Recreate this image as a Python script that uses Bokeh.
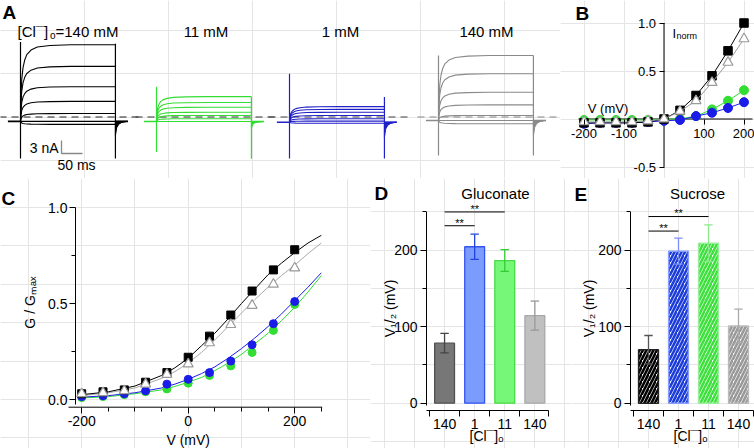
import math
from bokeh.plotting import figure
from bokeh.layouts import row, column
from bokeh.models import Range1d, FixedTicker, Label, ColumnDataSource, NumeralTickFormatter, LinearAxis
from bokeh.embed import file_html
from bokeh.resources import INLINE

FONT = "Liberation Sans"

# ---------------- Panel A : current traces ----------------
a_group_labels = ["=140 mM", "11 mM", "1 mM", "140 mM"]
a_colors = ["#000000", "#33dd33", "#2020c8", "#8a8a8a"]
a_dash_colors = ["#222222", "#333333", "#444444", "#888888"]
a_levels = [
    [16.7, 11.7, 7.0, 3.6, 0.8, -1.0, -1.7],      # 140 mM Cl
    [4.7, 3.35, 2.25, 1.1, 0.35, -0.4, -1.05],    # 11 mM
    [2.4, 1.75, 1.1, 0.35, -0.4, -0.95, -1.45],   # 1 mM
    [14.2, 10.0, 5.7, 2.8, 0.35, -0.8, -1.55],    # 140 mM again
]
a_holding = [-1.0, -1.05, -1.2, -0.8]
a_on_top = [17.3, 7.0, 10.0, 14.2]
a_on_bottom = [-9.6, -8.1, -9.6, -8.9]
a_off_top = [16.9, 4.7, 4.6, 14.2]
a_off_bottom = [-9.6, -9.65, -9.6, -8.9]
a_tail_depth = [[-4.3, -3.0], [-2.6, -1.8], [-4.7, -3.0], [-4.3, -2.8]]
a_rise_t = [0, 1, 3, 6, 10, 15, 25, 40, 70, 120, 226]
a_rise_f = [0, 0.3, 0.55, 0.7, 0.8, 0.87, 0.93, 0.97, 0.99, 1.0, 1.0]
a_tail_t = [0, 3, 8, 15, 28]
a_tail_f = [1.0, 0.45, 0.2, 0.08, 0.0]
a_pulse_ms = 226
a_scale_nA = 3
a_scale_ms = 50

# ---------------- Panel B : I-V ----------------
b_v = [-200, -160, -120, -80, -40, 0, 40, 80, 120, 160, 200]
b_black = [-0.04, -0.04, -0.04, -0.04, -0.03, 0.0, 0.09, 0.245, 0.45, 0.71, 1.0]
b_gray = [-0.03, -0.03, -0.03, -0.03, -0.02, 0.0, 0.08, 0.19, 0.38, 0.59, 0.835]
b_green = [-0.01, -0.01, -0.01, -0.01, -0.01, 0.0, 0.0, 0.03, 0.10, 0.19, 0.30]
b_blue = [-0.05, -0.04, -0.04, -0.04, -0.03, -0.02, -0.01, 0.03, 0.065, 0.115, 0.175]

# ---------------- Panel C : G/Gmax ----------------
c_v = [-200, -160, -120, -80, -40, 0, 40, 80, 120, 160, 200]
c_black = [0.03, 0.04, 0.05, 0.09, 0.14, 0.22, 0.33, 0.44, 0.565, 0.675, 0.78]
c_gray = [0.03, 0.035, 0.045, 0.08, 0.13, 0.185, 0.295, 0.39, 0.49, 0.60, 0.685]
c_blue = [0.015, 0.02, 0.03, 0.045, 0.08, 0.105, 0.14, 0.20, 0.285, 0.395, 0.51]
c_green = [0.01, 0.015, 0.025, 0.04, 0.055, 0.085, 0.125, 0.175, 0.245, 0.36, 0.495]
c_fit_v = [-200, -150, -100, -50, -25, 0, 25, 50, 75, 100, 125, 150, 175, 200, 225, 250]
c_fit_black = [0.025, 0.04, 0.07, 0.125, 0.165, 0.215, 0.28, 0.345, 0.42, 0.5, 0.575, 0.65, 0.71, 0.765, 0.815, 0.855]
c_fit_gray = [0.02, 0.035, 0.06, 0.11, 0.145, 0.19, 0.245, 0.31, 0.38, 0.45, 0.52, 0.585, 0.645, 0.70, 0.76, 0.815]
c_fit_blue = [0.012, 0.02, 0.035, 0.06, 0.08, 0.105, 0.135, 0.17, 0.215, 0.265, 0.32, 0.38, 0.445, 0.515, 0.585, 0.66]
c_fit_green = [0.008, 0.015, 0.03, 0.05, 0.068, 0.09, 0.115, 0.15, 0.19, 0.235, 0.29, 0.345, 0.41, 0.48, 0.56, 0.645]

# ---------------- Panels D / E : V1/2 bars ----------------
de_categories = ["140", "1", "11", "140"]
d_values = [78.5, 204.5, 186.5, 114.5]
d_errors = [12.8, 16.5, 14.3, 19.0]
d_fill = ["#777777", "#7b9cfd", "#77f777", "#c0c0c0"]
d_line = ["#505050", "#3355ee", "#44dd44", "#a8a8a8"]
d_err_col = ["#444444", "#2244dd", "#33cc33", "#999999"]
e_values = [70.0, 198.7, 209.0, 101.0]
e_errors = [18.5, 17.0, 24.0, 22.0]
e_hatch = ["#000000", "#1d3ddb", "#3ee03e", "#999999"]
e_line = ["#222222", "#8aa0ff", "#99ee99", "#bbbbbb"]
e_err_col = ["#555555", "#7d8ff5", "#8be88b", "#aaaaaa"]
d_sig = [(1, 2, 232), (1, 3, 250)]
e_sig = [(1, 2, 225), (1, 3, 244)]

GREEN = "#33dd33"
BLUE = "#1c1ce8"
GRAYM = "#9a9a9a"


class Box:
    """Maps reference-pixel layout positions to a figure's data coordinates."""
    def __init__(self, rx0, rx1, ry0, ry1, fx, fy):
        self.fx, self.fy = fx, fy
        self.w = int(round(rx1 - rx0))
        self.h = int(round(ry1 - ry0))
        self.xr = (fx(rx0), fx(rx1))
        self.yr = (fy(ry1), fy(ry0))


def mkfig(box):
    p = figure(width=box.w, height=box.h, x_range=Range1d(*box.xr), y_range=Range1d(*box.yr),
               output_backend="svg", toolbar_location=None, min_border=0,
               x_axis_location=None, y_axis_location=None)
    p.title.visible = False
    p.outline_line_color = None
    p.background_fill_color = "white"
    p.border_fill_color = "white"
    return p


def lab(p, x, y, text, size="13px", align="left", bold=False, color="black", angle=0):
    p.add_layout(Label(x=x, y=y, text=text, text_font=FONT, text_font_size=size,
                       text_align=align, text_baseline="middle", angle=angle,
                       text_font_style="bold" if bold else "normal", text_color=color))


def add_axes(p, xloc, yloc, xticker, yticker, fs="14px"):
    xa = LinearAxis(ticker=xticker, fixed_location=xloc)
    ya = LinearAxis(ticker=yticker, fixed_location=yloc)
    p.add_layout(xa, "below")
    p.add_layout(ya, "left")
    for ax in (xa, ya):
        ax.axis_line_color = None
        ax.major_tick_line_color = "black"
        ax.minor_tick_line_color = "black"
        ax.major_tick_in = 0
        ax.minor_tick_in = 0
        ax.major_label_text_font = FONT
        ax.major_label_text_font_size = fs
        ax.major_label_text_color = "black"
    return xa, ya


# ================= Figure A =================
boxA = Box(0, 560, 0, 178, lambda rx: rx / 0.42, lambda ry: (116.5 - ry) / 4.33)
pA = mkfig(boxA)
onsets = [boxA.fx(20), boxA.fx(156), boxA.fx(289), boxA.fx(438)]
for g in range(4):
    t0 = onsets[g]
    t1 = t0 + a_pulse_ms
    hold = a_holding[g]
    col = a_colors[g]
    pA.line([t0 - 50, t1 + 55], [0, 0], line_color=a_dash_colors[g], line_dash="7 5", line_width=1.2)
    pA.line([t0 - 30, t0], [hold, hold], line_color=col, line_width=1.6)
    pA.line([t1, t1 + 30], [hold, hold], line_color=col, line_width=1.6)
    d0 = a_tail_depth[g][0]
    tx = [t1 + t for t in a_tail_t]
    ty = [hold + (d0 - hold) * f for f in a_tail_f]
    pA.patch(tx + [t1 + a_tail_t[-1], t1], ty + [hold, hold], fill_color=col, line_color=col, line_width=1)
    for d in a_tail_depth[g][1:]:
        pA.line(tx, [hold + (d - hold) * f for f in a_tail_f], line_color=col, line_width=1)
    pA.segment(x0=[t0, t1], y0=[a_on_bottom[g], a_off_bottom[g]], x1=[t0, t1],
               y1=[a_on_top[g], a_off_top[g]], line_color=col, line_width=1.2)
    xs = [[t0 + t for t in a_rise_t] for _ in a_levels[g]]
    ys = [[hold + (lv - hold) * f for f in a_rise_f] for lv in a_levels[g]]
    pA.multi_line(xs, ys, line_color=col, line_width=1.1)

sx0 = boxA.fx(61)
sy0 = boxA.fy(153)
pA.line([sx0, sx0, sx0 + a_scale_ms], [sy0 + a_scale_nA, sy0, sy0], line_color="#888888", line_width=1.3)
lab(pA, boxA.fx(58), boxA.fy(147), "%d nA" % a_scale_nA, size="14px", align="right")
lab(pA, boxA.fx(76), boxA.fy(164), "%d ms" % a_scale_ms, size="14px", align="center")

lab(pA, boxA.fx(2), boxA.fy(11.7), "A", size="19px", bold=True)
lab(pA, boxA.fx(17), boxA.fy(30.5), "[Cl¯]", size="15px")
lab(pA, boxA.fx(49.5), boxA.fy(35), "o", size="10px")
lab(pA, boxA.fx(55), boxA.fy(30.5), a_group_labels[0], size="15px")
lab(pA, boxA.fx(205.5), boxA.fy(30.5), a_group_labels[1], size="15px", align="center")
lab(pA, boxA.fx(340), boxA.fy(30.5), a_group_labels[2], size="15px", align="center")
lab(pA, boxA.fx(486), boxA.fy(30.7), a_group_labels[3], size="15px", align="center")

# ================= Figure B =================
boxB = Box(560, 754, 0, 178, lambda rx: (rx - 663.5) / 0.4, lambda ry: (118.5 - ry) / 96.0)
pB = mkfig(boxB)
xa, ya = add_axes(pB, 0, 0, FixedTicker(ticks=[-200, -100, 100, 200], minor_ticks=[]),
                  FixedTicker(ticks=[-0.5, 0.5, 1.0], minor_ticks=[]), "13px")
ya.formatter = NumeralTickFormatter(format="0.0")
xa.major_label_overrides = {-200: "-200", -100: "-100", 100: "100", 200: "200"}
for ax in (xa, ya):
    ax.major_tick_out = 5
    ax.minor_tick_out = 0
xa.major_label_standoff = 5
ya.major_label_standoff = 3
pB.line([boxB.fx(578), boxB.fx(752)], [0, 0], line_color="black", line_width=1)
pB.line([0, 0], [-0.5, 1.0], line_color="black", line_width=1)

pB.line(b_v, b_green, line_color=GREEN, line_width=1)
pB.scatter(b_v, b_green, marker="circle", size=9, fill_color=GREEN, line_color=GREEN)
pB.line(b_v, b_blue, line_color=BLUE, line_width=1)
pB.scatter(b_v, b_blue, marker="circle", size=9, fill_color=BLUE, line_color=BLUE)
pB.line(b_v, b_black, line_color="black", line_width=1)
pB.scatter(b_v, b_black, marker="square", size=8.5, fill_color="black", line_color="black")
pB.line(b_v, b_gray, line_color=GRAYM, line_width=1)
pB.scatter(b_v, b_gray, marker="triangle", size=10, fill_color="white", line_color=GRAYM, line_width=1.2)

lab(pB, boxB.fx(607.5), boxB.fy(108), "V (mV)", size="13px", align="center")
lab(pB, boxB.fx(672), boxB.fy(32.5), "I", size="13px")
lab(pB, boxB.fx(676), boxB.fy(35.5), "norm", size="9px")
lab(pB, boxB.fx(575), boxB.fy(12.5), "B", size="19px", bold=True)

# ================= Figure C =================
boxC = Box(0, 370, 178, 448, lambda rx: (rx - 187.7) / 0.5325, lambda ry: (399.0 - ry) / 192.0)
pC = mkfig(boxC)
xa, ya = add_axes(pC, boxC.fy(406.7), boxC.fx(75),
                  FixedTicker(ticks=[-200, 0, 200], minor_ticks=[-150, -100, -50, 50, 100, 150, 250]),
                  FixedTicker(ticks=[0, 0.5, 1.0], minor_ticks=[0.25, 0.75]), "14px")
ya.formatter = NumeralTickFormatter(format="0.0")
xa.major_label_overrides = {-200: "-200", 0: "0", 200: "200"}
for ax in (xa, ya):
    ax.major_tick_out = 6
    ax.minor_tick_out = 4
xa.major_label_standoff = 3
ya.major_label_standoff = 2
pC.line([boxC.fx(68), boxC.fx(321.7)], [boxC.fy(406.7)] * 2, line_color="black", line_width=1)
pC.line([boxC.fx(75)] * 2, [boxC.fy(404), 1.0], line_color="black", line_width=1)

pC.line(c_fit_v, c_fit_green, line_color=GREEN, line_width=1)
pC.line(c_fit_v, c_fit_blue, line_color=BLUE, line_width=1)
pC.line(c_fit_v, c_fit_gray, line_color="#aaaaaa", line_width=1)
pC.line(c_fit_v, c_fit_black, line_color="black", line_width=1)
pC.scatter(c_v, c_green, marker="circle", size=8, fill_color=GREEN, line_color=GREEN)
pC.scatter(c_v, c_blue, marker="circle", size=8, fill_color=BLUE, line_color=BLUE)
pC.scatter(c_v, c_black, marker="square", size=8, fill_color="black", line_color="black")
pC.scatter(c_v, c_gray, marker="triangle", size=10, fill_color="white", line_color=GRAYM, line_width=1.2)
lab(pC, boxC.fx(187.7), boxC.fy(439), "V (mV)", size="14px", align="center")
lab(pC, boxC.fx(29), boxC.fy(302), "G / Gₘₐₓ", size="14px", align="center", angle=math.pi / 2)
lab(pC, boxC.fx(1), boxC.fy(198), "C", size="19px", bold=True)


# ================= Figures D / E =================
def bar_panel(box, axis_rx, end_rx, values, errors, title, title_rx, title_ry, letter, letter_rx,
              letter_ry, ylab_rx, xlab_rx, sig, hatched):
    p = mkfig(box)
    xend = box.fx(end_rx)
    pos = list(range(1, len(de_categories) + 1))
    x_axis_y = box.fy(410)
    xa, ya = add_axes(p, x_axis_y, box.fx(axis_rx),
                      FixedTicker(ticks=pos, minor_ticks=[0.5, 1.5, 2.5, 3.5, xend]),
                      FixedTicker(ticks=[0, 100, 200], minor_ticks=[50, 150, 250]), "14px")
    xa.major_label_overrides = {i: c for i, c in zip(pos, de_categories)}
    xa.major_tick_out = 0
    xa.minor_tick_out = 6
    xa.major_label_standoff = 2
    ya.major_tick_out = 6
    ya.minor_tick_out = 4
    ya.major_label_standoff = 3
    p.line([box.fx(axis_rx), xend], [x_axis_y, x_axis_y], line_color="black", line_width=1)
    p.line([box.fx(axis_rx)] * 2, [box.fy(405), 250], line_color="black", line_width=1)

    lo = [v - e for v, e in zip(values, errors)]
    hi = [v + e for v, e in zip(values, errors)]
    if hatched:
        src = ColumnDataSource(dict(x=pos, top=values, hc=e_hatch, lc=e_line, ec=e_err_col, lo=lo, hi=hi))
        p.vbar(x="x", top="top", bottom=0, width=0.66, source=src, fill_color="white",
               hatch_pattern="/", hatch_color="hc", hatch_weight=2.6, hatch_scale=7,
               line_color="lc", line_width=1.5)
    else:
        src = ColumnDataSource(dict(x=pos, top=values, fc=d_fill, lc=d_line, ec=d_err_col, lo=lo, hi=hi))
        p.vbar(x="x", top="top", bottom=0, width=0.66, source=src, fill_color="fc",
               line_color="lc", line_width=1.3)
    p.segment(x0="x", y0="lo", x1="x", y1="hi", line_color="ec", line_width=1.3, source=src)
    cap = 0.14
    p.segment(x0=[x - cap for x in pos], y0=hi, x1=[x + cap for x in pos], y1=hi,
              line_color=src.data["ec"], line_width=1.3)
    p.segment(x0=[x - cap for x in pos], y0=lo, x1=[x + cap for x in pos], y1=lo,
              line_color=src.data["ec"], line_width=1.3)
    for a, b, yv in sig:
        p.segment(x0=[a], y0=[yv], x1=[b], y1=[yv], line_color="black", line_width=1)
        lab(p, (a + b) / 2, yv + 4, "**", size="11px", align="center")
    lab(p, box.fx(title_rx), box.fy(title_ry), title, size="15px", align="center")
    lab(p, box.fx(letter_rx), box.fy(letter_ry), letter, size="19px", bold=True)
    lab(p, box.fx(xlab_rx), box.fy(435), "[Cl¯]ₒ", size="14px", align="center")
    lab(p, box.fx(ylab_rx), box.fy(308), "V₁/₂ (mV)", size="14px", align="center", angle=math.pi / 2)
    return p


boxD = Box(370, 572, 178, 448, lambda rx: 0.4 + (rx - 426) / 30.1, lambda ry: (402.7 - ry) / 0.765)
boxE = Box(572, 754, 178, 448, lambda rx: 0.4 + (rx - 630) / 30.0, lambda ry: (402.7 - ry) / 0.765)
pD = bar_panel(boxD, 426, 548, d_values, d_errors, "Gluconate", 495, 192.5, "D", 374, 193, 389, 486,
               d_sig, False)
pE = bar_panel(boxE, 630, 753, e_values, e_errors, "Sucrose", 697, 193, "E", 574, 194, 588, 690,
               e_sig, True)

layout = column(row(pA, pB), row(pC, pD, pE))
open("out.html", "w").write(file_html(layout, INLINE))
